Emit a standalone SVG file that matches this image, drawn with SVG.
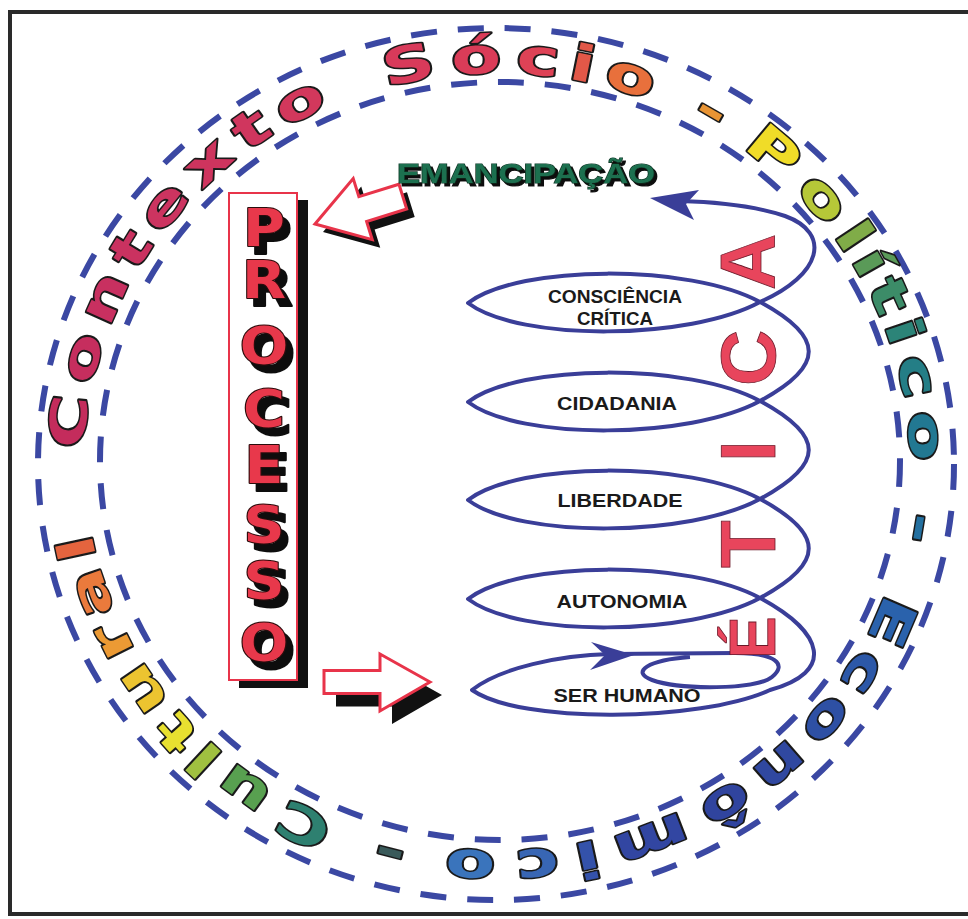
<svg xmlns="http://www.w3.org/2000/svg" width="968" height="919" viewBox="0 0 968 919">
<style>
.dash{fill:none;stroke:#3b48a3;stroke-width:6;stroke-dasharray:26 21}
.ring text{font-family:"DejaVu Sans","Liberation Sans",sans-serif;font-weight:bold;font-size:50px;text-anchor:middle;stroke:#1a1a1a;stroke-width:3;paint-order:stroke;stroke-linejoin:round}
.lbl{font-family:"Liberation Sans",Arial,sans-serif;font-weight:bold;font-size:18px;fill:#1a1a1a;text-anchor:middle}
.proc{font-family:"DejaVu Sans","Liberation Sans",sans-serif;font-weight:bold;font-size:51px;text-anchor:middle;fill:#e8384c;stroke:#2a0a0a;stroke-width:2;paint-order:stroke;stroke-linejoin:round}
.spiral{fill:none;stroke:#3a3e98;stroke-width:4;stroke-linejoin:round}
.arr{fill:#fff;stroke:#e8344a;stroke-width:3;stroke-linejoin:miter}
</style>
<defs>
<filter id="sh" filterUnits="userSpaceOnUse" x="0" y="0" width="968" height="919">
<feFlood flood-color="#111"/><feComposite in2="SourceAlpha" operator="in"/><feOffset dx="7" dy="8" result="s"/>
<feMerge><feMergeNode in="s"/><feMergeNode in="SourceGraphic"/></feMerge>
</filter>
<filter id="sh2" filterUnits="userSpaceOnUse" x="0" y="0" width="968" height="919">
<feFlood flood-color="#111"/><feComposite in2="SourceAlpha" operator="in"/><feOffset dx="3" dy="3" result="s"/>
<feMerge><feMergeNode in="s"/><feMergeNode in="SourceGraphic"/></feMerge>
</filter>
<polygon id="arrowUp" points="0,0 -50,-32 -50,-13 -92,-13 -92,13 -50,13 -50,32"/>
<polygon id="arrowLow" points="0,0 -50,-28 -50,-11.5 -106,-11.5 -106,11.5 -50,11.5 -50,29"/>
</defs>
<rect width="968" height="919" fill="#fff"/>
<rect id="frame" x="10" y="12" width="966" height="902" fill="none" stroke="#2a2a2a" stroke-width="4"/>

<g id="rings">
<ellipse class="dash" cx="496" cy="464" rx="458" ry="436"/>
<ellipse class="dash" cx="500" cy="461" rx="400" ry="379"/>
</g>

<g id="context-text" class="ring">
<text transform="translate(86,423.4) rotate(275.7) scale(1.45,1)" fill="#c42c5c">C</text>
<text transform="translate(97.9,362) rotate(284.9) scale(1.45,1)" fill="#c62e5e">o</text>
<text transform="translate(119.4,304.4) rotate(293.9) scale(1.45,1)" fill="#c83060">n</text>
<text transform="translate(145.2,258.2) rotate(301.6) scale(1.45,1)" fill="#ca3260">t</text>
<text transform="translate(176.5,216.7) rotate(309.1) scale(1.45,1)" fill="#cc3460">e</text>
<text transform="translate(219,174.3) rotate(317.7) scale(1.45,1)" fill="#ce345e">x</text>
<text transform="translate(260.7,142.9) rotate(325.1) scale(1.45,1)" fill="#d0365e">t</text>
<text transform="translate(306.9,116.6) rotate(332.6) scale(1.45,1)" fill="#d2385c">o</text>
<text transform="translate(411.8,81.4) rotate(348.1) scale(1.45,1)" fill="#d83a5a">S</text>
<text transform="translate(476.8,73.5) rotate(357.2) scale(1.45,1)" fill="#da3c58">ó</text>
<text transform="translate(536.6,74.8) rotate(5.5) scale(1.45,1)" fill="#de4256">c</text>
<text transform="translate(579.4,80.8) rotate(11.5) scale(1.45,1)" fill="#e25848">i</text>
<text transform="translate(626,92.4) rotate(18.2) scale(1.45,1)" fill="#e8703c">o</text>
<text transform="translate(703.5,125.1) rotate(30) scale(1.45,1)" fill="#e89434">-</text>
<text transform="translate(762.5,164) rotate(40) scale(1.45,1)" fill="#f0dc28">P</text>
<text transform="translate(810.6,208.8) rotate(49.4) scale(1.45,1)" fill="#b6c838">o</text>
<text transform="translate(840.2,245.6) rotate(56.2) scale(1.45,1)" fill="#80ac48">l</text>
<text transform="translate(856.5,270.5) rotate(60.5) scale(1.45,1)" fill="#5a9a58">í</text>
<text transform="translate(873.7,302.5) rotate(65.8) scale(1.45,1)" fill="#3c8c68">t</text>
<text transform="translate(887.9,336.6) rotate(71.2) scale(1.45,1)" fill="#2c8478">i</text>
<text transform="translate(900.7,379.8) rotate(77.8) scale(1.45,1)" fill="#247e86">c</text>
<text transform="translate(909.1,436.9) rotate(86.3) scale(1.45,1)" fill="#227892">o</text>
<text transform="translate(904.5,525.5) rotate(99.4) scale(1.45,1)" fill="#2470a0">-</text>
<text transform="translate(876.6,615.2) rotate(113.2) scale(1.45,1)" fill="#2a62ac">E</text>
<text transform="translate(849.5,664.7) rotate(121.4) scale(1.45,1)" fill="#2c58a8">c</text>
<text transform="translate(814.8,710.5) rotate(129.7) scale(1.45,1)" fill="#2e50a4">o</text>
<text transform="translate(769.6,754.3) rotate(138.7) scale(1.45,1)" fill="#3048a0">n</text>
<text transform="translate(717.7,790.8) rotate(147.7) scale(1.45,1)" fill="#30449e">ô</text>
<text transform="translate(645.7,824.9) rotate(158.9) scale(1.45,1)" fill="#3246a2">m</text>
<text transform="translate(584.3,842.2) rotate(167.8) scale(1.45,1)" fill="#3452aa">i</text>
<text transform="translate(535.9,849.3) rotate(174.6) scale(1.45,1)" fill="#3866b4">c</text>
<text transform="translate(471.1,850.2) rotate(183.6) scale(1.45,1)" fill="#3a74bc">o</text>
<text transform="translate(393.6,838.6) rotate(194.5) scale(1.45,1)" fill="#3a5a5a">-</text>
<text transform="translate(311.4,809.5) rotate(206.7) scale(1.45,1)" fill="#2e8070">C</text>
<text transform="translate(253.7,776.3) rotate(216.1) scale(1.45,1)" fill="#58a050">u</text>
<text transform="translate(215.9,746.9) rotate(222.9) scale(1.45,1)" fill="#a0c040">l</text>
<text transform="translate(189.1,721.3) rotate(228.2) scale(1.45,1)" fill="#e8e030">t</text>
<text transform="translate(155.4,680.7) rotate(235.8) scale(1.45,1)" fill="#ecc430">u</text>
<text transform="translate(127.1,635) rotate(243.6) scale(1.45,1)" fill="#ec9a34">r</text>
<text transform="translate(106.3,588) rotate(251.1) scale(1.45,1)" fill="#ea7a3c">a</text>
<text transform="translate(93.5,544.9) rotate(257.7) scale(1.45,1)" fill="#e4643e">l</text>
</g>

<g id="processo">
<rect x="239" y="200" width="69" height="488" fill="#111"/>
<rect x="229" y="193" width="68" height="487" fill="#fff" stroke="#e8344a" stroke-width="2"/>
<g filter="url(#sh)">
<text class="proc" transform="scale(1.12,1)" x="235.7 235.7 235.7 235.7 235.7 235.7 235.7 235.7" y="246 298 364 427 483 543 599 661">PROCESSO</text>
</g>
</g>

<g id="arrow-emancipacao">
<use href="#arrowUp" transform="translate(323,232) rotate(162.7)" fill="#111"/>
<use href="#arrowUp" class="arr" transform="translate(315,224) rotate(162.7)"/>
</g>

<g id="arrow-ser-humano">
<use href="#arrowLow" transform="translate(442,695)" fill="#111"/>
<use href="#arrowLow" class="arr" transform="translate(430,682)"/>
</g>

<g id="emancipacao" filter="url(#sh2)">
<text x="397" y="183" textLength="258" lengthAdjust="spacingAndGlyphs" font-family="Liberation Sans,Arial,sans-serif" font-weight="bold" font-size="28" fill="#1e7050" stroke="#0c3020" stroke-width="1.2" paint-order="stroke">EMANCIPAÇÃO</text>
</g>

<g id="connectors">
<path class="spiral" d="M680,201 C720,202 755,206 785,216 C832,233 822,275 760,302
C690,340 520,342 468,303 C520,264 690,264 760,302
C825,337 825,366 760,401
C690,439 520,441 468,402 C520,363 690,363 760,401
C825,436 825,464 760,499
C690,537 520,539 468,500 C520,461 690,461 760,499
C825,534 825,563 760,598
C690,636 520,638 468,599 C520,560 690,560 760,598
C825,633 835,672 770,690
C700,722 520,724 472,690 C500,668 560,655 610,654 L735,653
C775,653 788,664 772,677 C756,690 680,690 652,680 C630,672 648,660 690,657"/>
<polygon points="650,198 699,190 686,204 694,220" fill="#3a3e98"/>
<polygon points="634,655 591,642 605,655 590,670" fill="#3a3e98"/>
</g>

<g id="nodes-labels">
<text class="lbl" x="615" y="303" textLength="134" lengthAdjust="spacingAndGlyphs">CONSCIÊNCIA</text>
<text class="lbl" x="615" y="325" textLength="76" lengthAdjust="spacingAndGlyphs">CRÍTICA</text>
<text class="lbl" x="617" y="410" textLength="120" lengthAdjust="spacingAndGlyphs">CIDADANIA</text>
<text class="lbl" x="620" y="507" textLength="125" lengthAdjust="spacingAndGlyphs">LIBERDADE</text>
<text class="lbl" x="622" y="608" textLength="131" lengthAdjust="spacingAndGlyphs">AUTONOMIA</text>
<text class="lbl" x="627" y="702" font-size="19" textLength="147" lengthAdjust="spacingAndGlyphs">SER HUMANO</text>
</g>

<g id="etica">
<text transform="translate(775,0) rotate(-90)" font-family="Liberation Sans,Arial,sans-serif" font-weight="bold" font-size="78" fill="#e8455c" stroke="#6a1828" stroke-width="0.8" x="-659 -568 -462 -386 -290" y="0"><tspan font-size="64">É</tspan>TICA</text>
</g>
</svg>
